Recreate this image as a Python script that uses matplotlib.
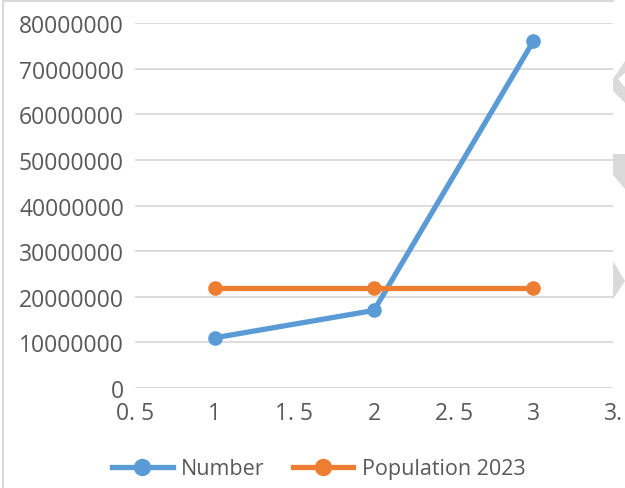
import matplotlib
matplotlib.use('Agg')
from matplotlib import pyplot as plt
from matplotlib.patches import Polygon
from matplotlib.lines import Line2D

# data
x = [1, 2, 3]
number = [11000000, 17000000, 76000000]
population_2023 = [22000000, 22000000, 22000000]
series_names = ['Number', 'Population 2023']
x_ticks = [0.5, 1, 1.5, 2, 2.5, 3, 3.5]
x_tick_labels = ['0. 5', '1', '1. 5', '2', '2. 5', '3', '3.']
y_ticks = list(range(0, 80000001, 10000000))

blue = '#5B9BD5'
orange = '#ED7D31'
grey_text = '#595959'
grid_col = '#D9D9D9'

plt.rcParams['font.family'] = ['Open Sans', 'DejaVu Sans']

fig = plt.figure(figsize=(6.25, 4.89), dpi=100)
ax = fig.add_axes([135 / 625, 1 - 389 / 489, (613 - 135) / 625, (389 - 24) / 489])

for vals, col, name in [(number, blue, series_names[0]), (population_2023, orange, series_names[1])]:
    ax.plot(x, vals, color=col, lw=3.8, marker='o', ms=9.5, label=name,
            solid_capstyle='round', zorder=3)

ax.set_xlim(0.5, 3.5)
ax.set_ylim(0, 80000000)
ax.set_xticks(x_ticks)
ax.set_xticklabels(x_tick_labels)
ax.set_yticks(y_ticks)
ax.set_yticklabels([str(v) for v in y_ticks])
ax.tick_params(axis='both', length=0, labelsize=16.5, colors=grey_text)
ax.tick_params(axis='y', pad=8)
ax.tick_params(axis='x', pad=9.5)
ax.grid(axis='y', color=grid_col, lw=1.3)
ax.set_axisbelow(True)
for s in ax.spines.values():
    s.set_visible(False)

# legend at the bottom
handles = [Line2D([], [], color=blue, lw=3.8, marker='o', ms=11.5),
           Line2D([], [], color=orange, lw=3.8, marker='o', ms=11.5)]
fig.legend(handles, series_names, loc='center', bbox_to_anchor=(0.51, 1 - 470 / 489),
           ncol=2, frameon=False, fontsize=15.5, labelcolor=grey_text,
           handlelength=2.8, handletextpad=0.4, columnspacing=1.3)

# chart border (left and top visible)
fig.add_artist(Line2D([3 / 625, 3 / 625], [0, 1 - 2 / 489], color=grid_col, lw=1.5))
fig.add_artist(Line2D([3 / 625, 613 / 625], [1 - 2 / 489, 1 - 2 / 489], color=grid_col, lw=1.5))

# faint slide decorations at the right edge
def px(pts):
    return [(a / 625, 1 - b / 489) for a, b in pts]

shapes = [
    [(625, 62), (625, 74), (618, 80), (625, 88), (625, 104), (613, 92), (613, 80)],
    [(613, 155), (625, 155), (625, 190), (613, 176)],
    [(613, 262), (625, 282), (613, 300)],
]
for pts in shapes:
    fig.add_artist(Polygon(px(pts), closed=True, color='#DADADA', lw=0))

plt.savefig('out.png', dpi=100)
